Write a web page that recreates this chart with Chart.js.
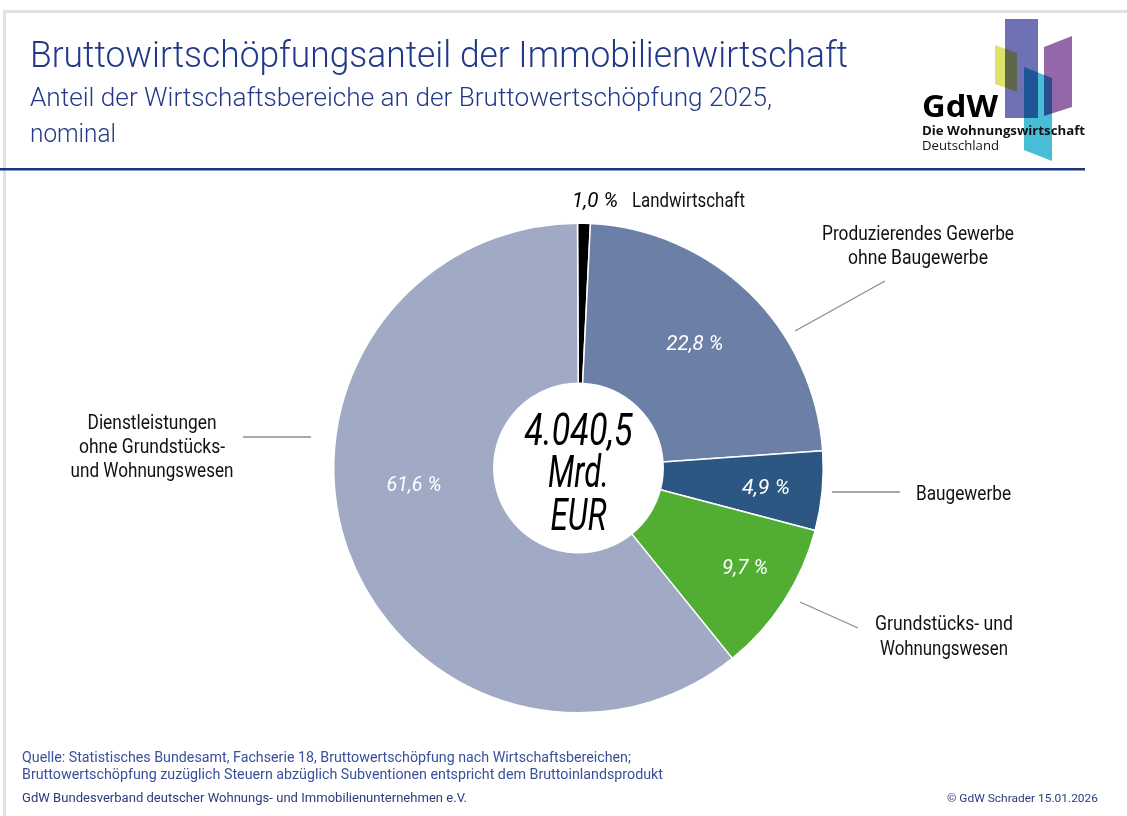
<!DOCTYPE html>
<html>
<head>
<meta charset="utf-8">
<script src="https://cdn.jsdelivr.net/npm/chart.js@4.4.1/dist/chart.umd.min.js"></script>
<style>
  html, body { margin: 0; padding: 0; background: #fff; }
  #chart { display: block; }
</style>
</head>
<body>
<canvas id="chart" width="1127" height="816"></canvas>
<script>
// Daten: Anteile der Wirtschaftsbereiche 2025 (in %)
const bereiche = [
  'Landwirtschaft',
  'Produzierendes Gewerbe ohne Baugewerbe',
  'Baugewerbe',
  'Grundstücks- und Wohnungswesen',
  'Dienstleistungen ohne Grundstücks- und Wohnungswesen'
];
// Segmentgroessen
const anteile = [0.84, 23.1, 5.24, 10.07, 60.75];
// Beschriftung der Segmente wie im Bild
const prozentTexte = ['1,0 %', '22,8 %', '4,9 %', '9,7 %', '61,6 %'];
const farben = ['#000000', '#6c7fa6', '#2b5782', '#52ae32', '#a1aac5'];
const gesamtMrd = 4040.5;

const titel = 'Bruttowirtschöpfungsanteil der Immobilienwirtschaft';
const untertitel = ['Anteil der Wirtschaftsbereiche an der Bruttowertschöpfung 2025,', 'nominal'];
const quelle = [
  'Quelle: Statistisches Bundesamt, Fachserie 18, Bruttowertschöpfung nach Wirtschaftsbereichen;',
  'Bruttowertschöpfung zuzüglich Steuern abzüglich Subventionen entspricht dem Bruttoinlandsprodukt'
];
const fusszeile = 'GdW Bundesverband deutscher Wohnungs- und Immobilienunternehmen e.V.';
const copyright = '© GdW Schrader 15.01.2026';

function fmtDe(v) {
  const teile = v.toFixed(1).split('.');
  return teile[0].replace(/\B(?=(\d{3})+(?!\d))/g, '.') + ',' + teile[1];
}

// Text auf eine Breite stauchen (schmale Schrift nachbilden)
function txt(ctx, s, x, y, font, color, align, breite) {
  ctx.save();
  ctx.font = font;
  ctx.fillStyle = color;
  ctx.textBaseline = 'alphabetic';
  const w = ctx.measureText(s).width;
  const sx = breite ? breite / w : 0.86;
  ctx.translate(x, y);
  ctx.scale(sx, 1);
  ctx.textAlign = align || 'left';
  ctx.fillText(s, 0, 0);
  ctx.restore();
}

function linie(ctx, x1, y1, x2, y2) {
  ctx.save();
  ctx.strokeStyle = '#8c8c8c';
  ctx.lineWidth = 1.3;
  ctx.beginPath();
  ctx.moveTo(x1, y1);
  ctx.lineTo(x2, y2);
  ctx.stroke();
  ctx.restore();
}

function poly(ctx, pts, color) {
  ctx.fillStyle = color;
  ctx.beginPath();
  ctx.moveTo(pts[0][0], pts[0][1]);
  for (let i = 1; i < pts.length; i++) ctx.lineTo(pts[i][0], pts[i][1]);
  ctx.closePath();
  ctx.fill();
}

const rahmenPlugin = {
  id: 'rahmen',
  beforeDraw(chart) {
    const ctx = chart.ctx;
    ctx.save();
    ctx.fillStyle = '#fff';
    ctx.fillRect(0, 0, chart.width, chart.height);
    // grauer Rahmen
    ctx.fillStyle = '#e2e2e2';
    ctx.fillRect(3, 10, 1124, 3);
    ctx.fillRect(3, 10, 3, 806);
    // blaue Linie
    ctx.fillStyle = '#1e3582';
    ctx.fillRect(0, 168, 1085, 2.5);
    ctx.restore();

    // Titel
    txt(ctx, titel, 30, 67, '300 37px Roboto', '#22398a', 'left', 818);
    txt(ctx, untertitel[0], 30, 106, '300 25px Roboto', '#22398a', 'left', 742);
    txt(ctx, untertitel[1], 30, 142, '300 25px Roboto', '#22398a', 'left', 86);

    // Logo
    ctx.save();
    poly(ctx, [[1005, 19], [1038, 19], [1038, 118], [1005, 118]], '#6e72b4');
    poly(ctx, [[1044, 47], [1072, 36], [1072, 107], [1044, 116]], '#9467a8');
    ctx.globalCompositeOperation = 'multiply';
    poly(ctx, [[995, 45], [1017, 53], [1017, 92], [995, 84]], '#dfe36b');
    poly(ctx, [[1024, 67], [1052, 78], [1052, 161], [1024, 150]], '#48bed6');
    ctx.restore();
    txt(ctx, 'GdW', 922, 117, '700 30px "Open Sans"', '#000', 'left', 76);
    txt(ctx, 'Die Wohnungswirtschaft', 922, 135, '700 13px "Open Sans"', '#111', 'left', 163);
    txt(ctx, 'Deutschland', 922, 150, '400 13px "Open Sans"', '#111', 'left', 77);

    // Fusszeile
    txt(ctx, quelle[0], 22, 762, '400 14px Roboto', '#3a4f9c', 'left', 609);
    txt(ctx, quelle[1], 22, 779, '400 14px Roboto', '#3a4f9c', 'left', 641);
    txt(ctx, fusszeile, 22, 802, '400 12px Roboto', '#2b3b7c', 'left', 445);
    txt(ctx, copyright, 1098, 802, '400 11px Roboto', '#2b3b7c', 'right', 151);
  }
};

const beschriftungPlugin = {
  id: 'beschriftung',
  afterDatasetsDraw(chart) {
    const ctx = chart.ctx;
    const arcs = chart.getDatasetMeta(0).data;
    // Radius-Anteil und Winkelverschiebung je Segment fuer die Prozentwerte
    const lage = [null, [0.70, -1.6], [0.77, 0.2], [0.79, -2.4], [0.675, 14.3]];
    const breiten = [46, 57, 48, 46, 55];
    arcs.forEach(function (arc, i) {
      if (!lage[i]) return;
      const mid = (arc.startAngle + arc.endAngle) / 2 + lage[i][1] * Math.PI / 180;
      const r = arc.outerRadius * lage[i][0];
      const x = arc.x + Math.cos(mid) * r;
      const y = arc.y + Math.sin(mid) * r;
      txt(ctx, prozentTexte[i], x, y + 8, 'italic 400 21px Roboto', '#ffffff', 'center', breiten[i]);
    });

    const c = arcs[0];
    // Landwirtschaft oben
    txt(ctx, prozentTexte[0], 618, 207, 'italic 400 21px Roboto', '#000', 'right', breiten[0]);
    txt(ctx, 'Landwirtschaft', 632, 207, '400 20px Roboto', '#111', 'left', 113);

    // aussen liegende Beschriftungen
    txt(ctx, 'Produzierendes Gewerbe', 918, 240, '400 20px Roboto', '#111', 'center', 192);
    txt(ctx, 'ohne Baugewerbe', 918, 264, '400 20px Roboto', '#111', 'center', 140);
    linie(ctx, 795, 331, 885, 281);

    txt(ctx, 'Baugewerbe', 916, 500, '400 20px Roboto', '#111', 'left', 95);
    linie(ctx, 832, 492, 900, 492);

    txt(ctx, 'Grundstücks- und', 944, 630, '400 20px Roboto', '#111', 'center', 138);
    txt(ctx, 'Wohnungswesen', 944, 655, '400 20px Roboto', '#111', 'center', 128);
    linie(ctx, 800, 602, 858, 628);

    txt(ctx, 'Dienstleistungen', 152, 429, '400 20px Roboto', '#111', 'center', 129);
    txt(ctx, 'ohne Grundstücks-', 152, 453, '400 20px Roboto', '#111', 'center', 146);
    txt(ctx, 'und Wohnungswesen', 152, 477, '400 20px Roboto', '#111', 'center', 163);
    linie(ctx, 243, 437, 311, 437);

    // Mitte
    txt(ctx, fmtDe(gesamtMrd), c.x, 445, 'italic 400 44px Roboto', '#000', 'center', 108);
    txt(ctx, 'Mrd.', c.x, 487, 'italic 400 44px Roboto', '#000', 'center', 61);
    txt(ctx, 'EUR', c.x, 530, 'italic 400 44px Roboto', '#000', 'center', 56);
  }
};

new Chart(document.getElementById('chart'), {
  type: 'doughnut',
  data: {
    labels: bereiche,
    datasets: [{
      data: anteile,
      backgroundColor: farben,
      borderColor: '#ffffff',
      borderWidth: 1.5,
      hoverOffset: 0
    }]
  },
  options: {
    responsive: false,
    animation: false,
    cutout: '34.6%',
    rotation: -0.23,
    layout: { padding: { left: 333, right: 303, top: 222, bottom: 102 } },
    plugins: {
      legend: { display: false },
      tooltip: { enabled: false },
      title: { display: false }
    }
  },
  plugins: [rahmenPlugin, beschriftungPlugin]
});
</script>
</body>
</html>
